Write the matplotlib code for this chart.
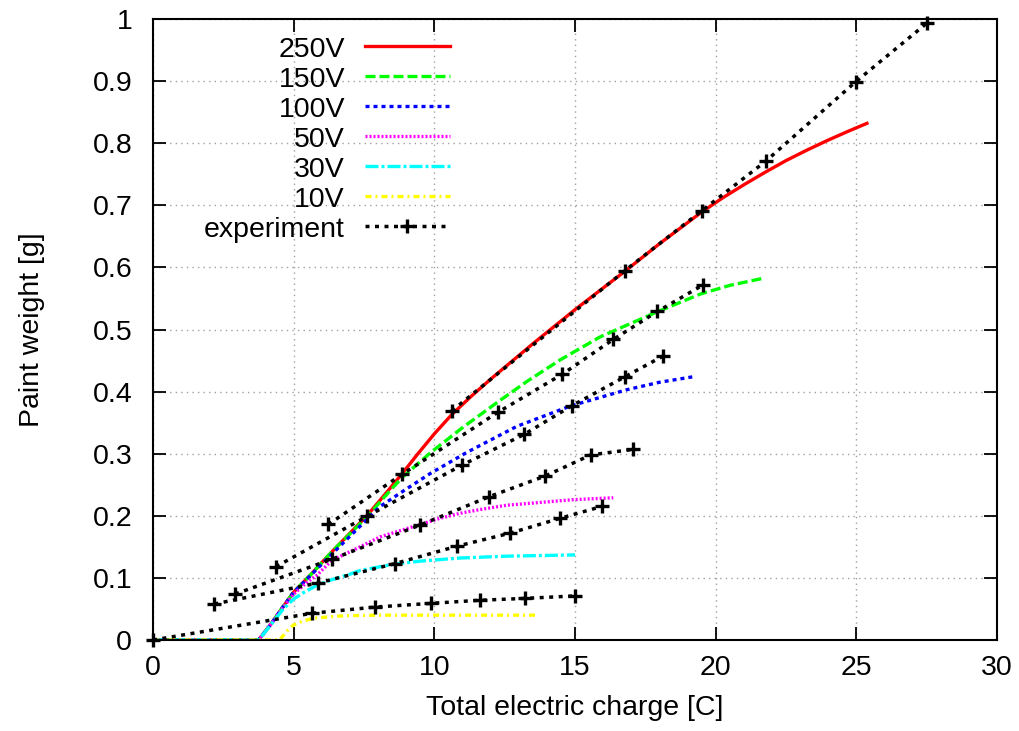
import matplotlib
matplotlib.use('Agg')
import matplotlib.pyplot as plt
from matplotlib.lines import Line2D

# ---------------- data ----------------
x_ticks = [0, 5, 10, 15, 20, 25, 30]
x_tick_labels = ['0', '5', '10', '15', '20', '25', '30']
y_ticks = [0, 0.1, 0.2, 0.3, 0.4, 0.5, 0.6, 0.7, 0.8, 0.9, 1.0]
y_tick_labels = ['0', '0.1', '0.2', '0.3', '0.4', '0.5', '0.6', '0.7', '0.8', '0.9', '1']

series_names = ['250V', '150V', '100V', '50V', '30V', '10V']

# model curves
m250_x = [0, 3.75, 4.2, 4.63, 5.0, 5.58, 6.17, 6.53, 7.0, 7.6, 8.2, 8.84, 9.4, 10.0, 10.62,
          11.3, 12.0, 13.5, 15.0, 16.78, 18.0, 19.5, 20.25, 21.0, 21.75, 22.5, 23.25, 24.0,
          24.7, 25.43]
m250_y = [0, 0, 0.026, 0.054, 0.077, 0.104, 0.133, 0.150, 0.172, 0.200, 0.232, 0.267, 0.299,
          0.332, 0.363, 0.392, 0.420, 0.477, 0.532, 0.594, 0.638, 0.689, 0.712, 0.733, 0.753,
          0.772, 0.789, 0.805, 0.819, 0.833]

m150_x = [0, 3.75, 4.2, 4.63, 5.0, 5.58, 6.17, 6.53, 7.0, 7.6, 8.2, 8.84, 9.9, 11.03, 12.34,
          13.28, 14.47, 15.89, 17.9, 19.45, 20.5, 21.64]
m150_y = [0, 0, 0.026, 0.054, 0.077, 0.104, 0.133, 0.150, 0.171, 0.198, 0.229, 0.261, 0.303,
          0.343, 0.386, 0.416, 0.451, 0.488, 0.528, 0.557, 0.571, 0.582]

m100_x = [0, 3.75, 4.2, 4.63, 5.0, 5.58, 6.17, 6.53, 7.0, 7.6, 8.07, 9.0, 9.85, 11.15, 12.93,
          14.85, 16.84, 18.0, 19.21]
m100_y = [0, 0, 0.026, 0.054, 0.077, 0.103, 0.130, 0.146, 0.167, 0.194, 0.215, 0.243, 0.268,
          0.302, 0.344, 0.377, 0.403, 0.415, 0.424]

m50_x = [0, 3.75, 4.2, 4.63, 5.0, 5.5, 5.82, 6.35, 7.36, 8.07, 9.49, 10.2, 10.91, 11.62, 12.57,
         14.94, 16.36]
m50_y = [0, 0, 0.026, 0.053, 0.074, 0.094, 0.104, 0.128, 0.150, 0.166, 0.186, 0.196, 0.204,
         0.210, 0.217, 0.226, 0.229]

m30_x = [0, 3.75, 4.2, 4.63, 5.0, 5.34, 5.82, 6.35, 7.0, 7.36, 8.54, 9.5, 10.91, 12.57, 15.0]
m30_y = [0, 0, 0.025, 0.050, 0.066, 0.076, 0.088, 0.097, 0.106, 0.112, 0.122, 0.127, 0.132,
         0.135, 0.137]

m10_x = [0, 4.5, 4.75, 4.99, 5.3, 5.7, 6.2, 6.77, 8.0, 10.0, 12.0, 13.58]
m10_y = [0, 0, 0.014, 0.024, 0.030, 0.035, 0.037, 0.039, 0.040, 0.040, 0.040, 0.040]

# experiment points
e250_x = [10.62, 16.78, 19.5, 21.78, 24.98, 27.5]
e250_y = [0.369, 0.595, 0.691, 0.771, 0.899, 0.993]
e150_x = [6.23, 8.86, 12.27, 14.55, 16.36, 17.93, 19.56]
e150_y = [0.186, 0.267, 0.367, 0.428, 0.484, 0.529, 0.572]
e100_x = [4.37, 7.6, 11.0, 13.19, 14.88, 16.78, 18.12]
e100_y = [0.118, 0.199, 0.282, 0.331, 0.377, 0.424, 0.457]
e50_x = [2.92, 6.35, 9.49, 11.96, 13.94, 15.56, 17.07]
e50_y = [0.074, 0.130, 0.185, 0.231, 0.264, 0.298, 0.307]
e30_x = [2.18, 5.88, 8.6, 10.8, 12.69, 14.47, 15.95]
e30_y = [0.058, 0.092, 0.123, 0.151, 0.172, 0.196, 0.215]
e10_x = [0, 5.64, 7.89, 9.88, 11.62, 13.22, 15.0]
e10_y = [0, 0.043, 0.053, 0.059, 0.064, 0.067, 0.071]

# ---------------- style ----------------
plt.rcParams['font.family'] = ['Liberation Sans', 'DejaVu Sans']
plt.rcParams['lines.scale_dashes'] = False
PX = 0.72  # points per pixel at dpi 100
FS = 20.5

model_curves = [(m250_x, m250_y), (m150_x, m150_y), (m100_x, m100_y),
                (m50_x, m50_y), (m30_x, m30_y), (m10_x, m10_y)]
exp_curves = [(e250_x, e250_y), (e150_x, e150_y), (e100_x, e100_y),
              (e50_x, e50_y), (e30_x, e30_y), (e10_x, e10_y)]
colors = ['#ff0000', '#00ff00', '#0000ff', '#ff00ff', '#00ffff', '#ffff00']
styles = ['-',
          (0, (10 * PX, 4 * PX)),
          (0, (4 * PX, 4 * PX)),
          (0, (2 * PX, 2 * PX)),
          (0, (13 * PX, 3 * PX, 3 * PX, 3 * PX)),
          (0, (6 * PX, 4 * PX, 2 * PX, 4 * PX))]
MLW = 2.4
EXP_LS = (0, (4 * PX, 5.5 * PX))
exp_style = dict(color='black', lw=2.5, ls=EXP_LS, marker='+', ms=10, mew=2.4)

fig = plt.figure(figsize=(10.2, 7.31), dpi=100)
ax = fig.add_axes([153 / 1020, 91 / 731, 844 / 1020, 621 / 731])

for (mx, my), c, s in zip(model_curves, colors, styles):
    ax.plot(mx, my, color=c, ls=s, lw=MLW, solid_capstyle='butt',
            solid_joinstyle='round')

for ex, ey in exp_curves:
    ax.plot(ex, ey, clip_on=False, zorder=3, **exp_style)

ax.set_xlim(0, 30)
ax.set_ylim(0, 1)
ax.set_xticks(x_ticks)
ax.set_xticklabels(x_tick_labels)
ax.set_yticks(y_ticks)
ax.set_yticklabels(y_tick_labels)
ax.tick_params(direction='in', length=9.5, width=1.3, top=True, right=True,
               labelsize=FS)
ax.tick_params(axis='x', pad=11)
ax.tick_params(axis='y', pad=15)
ax.grid(True, color='#a0a0a0', lw=1.0, ls=(0, (1.0, 3.0)))
ax.set_axisbelow(True)
for sp in ax.spines.values():
    sp.set_linewidth(1.5)

ax.set_xlabel('Total electric charge [C]', fontsize=FS)
ax.xaxis.set_label_coords(0.5, -0.088)
ax.set_ylabel('Paint weight [g]', fontsize=FS)
ax.yaxis.set_label_coords(-0.128, 0.5)

# ---------------- key (gnuplot style) ----------------
key_labels = series_names + ['experiment']
text_x = (345 - 153) / 844
line_x0 = (365 - 153) / 844
line_x1 = (450 - 153) / 844
row0 = (640 - 46) / 621
dy = 30 / 621
for i, lab in enumerate(key_labels):
    yy = row0 - i * dy
    ax.text(text_x, yy - 11 / 621, lab, transform=ax.transAxes, ha='right',
            va='baseline', fontsize=FS)
    if i < 6:
        ax.add_line(Line2D([line_x0, line_x1], [yy, yy], transform=ax.transAxes,
                           color=colors[i], ls=styles[i], lw=MLW, clip_on=False))
    else:
        ax.add_line(Line2D([line_x0, line_x1], [yy, yy], transform=ax.transAxes,
                           color='black', lw=2.5, ls=EXP_LS, clip_on=False))
        ax.add_line(Line2D([(line_x0 + line_x1) / 2], [yy], transform=ax.transAxes,
                           color='black', marker='+', ms=10, mew=2.4, ls='none',
                           clip_on=False))

fig.savefig('out.png', dpi=100)
